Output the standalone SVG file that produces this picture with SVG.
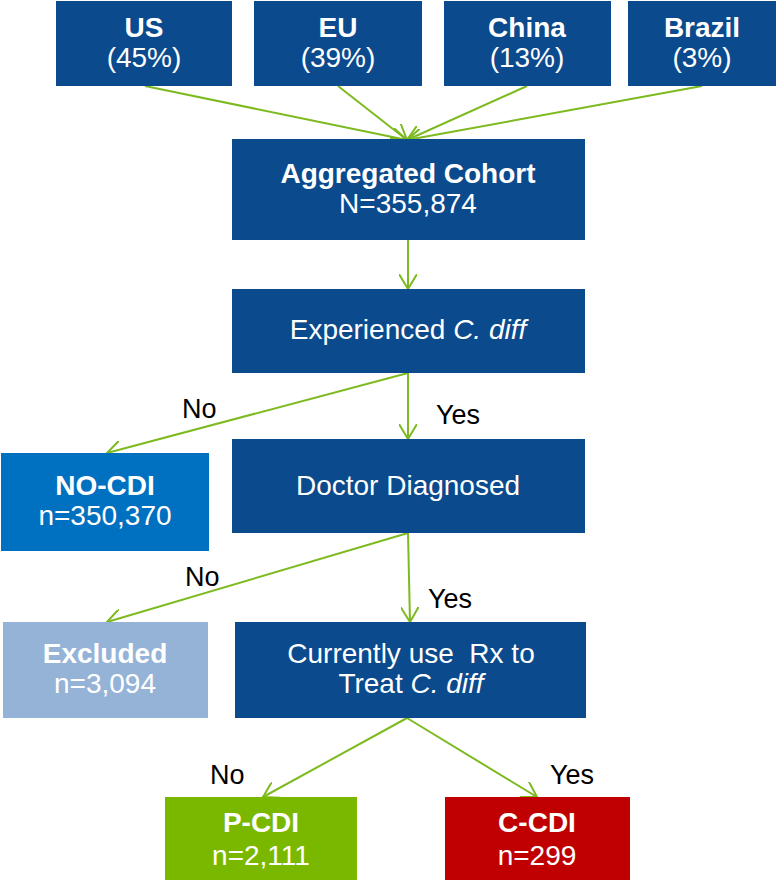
<svg xmlns="http://www.w3.org/2000/svg" width="776" height="882" viewBox="0 0 776 882">
<defs>
<style>
.box{fill:#0A4A8D;}
.t{font-family:"Liberation Sans",Arial,sans-serif;font-size:28px;fill:#fff;text-anchor:middle;}
.b{font-weight:bold;}
.lbl{font-family:"Liberation Sans",Arial,sans-serif;font-size:27px;fill:#000;}
.c{stroke:#7DBA1F;stroke-width:2;fill:none;marker-end:url(#ah);}
</style>
<marker id="ah" markerUnits="userSpaceOnUse" viewBox="0 0 16 18" refX="15" refY="9" markerWidth="16" markerHeight="18" orient="auto">
<path d="M0,0 L15,9 L0,18" fill="none" stroke="#7DBA1F" stroke-width="2"/>
</marker>
</defs>
<rect width="776" height="882" fill="#fff"/>
<g id="connectors">
<line class="c" x1="145" y1="86" x2="407" y2="140"/>
<line class="c" x1="338" y1="86" x2="407" y2="140"/>
<line class="c" x1="527" y1="86" x2="407" y2="140"/>
<line class="c" x1="702" y1="86" x2="407" y2="140"/>
<line class="c" x1="408" y1="240" x2="408" y2="289"/>
<line class="c" x1="408" y1="373" x2="107" y2="453"/>
<line class="c" x1="408" y1="373" x2="408" y2="439"/>
<line class="c" x1="408" y1="533" x2="107" y2="622"/>
<line class="c" x1="408" y1="533" x2="410" y2="622"/>
<line class="c" x1="407" y1="718" x2="263" y2="797"/>
<line class="c" x1="407" y1="718" x2="537" y2="797"/>
</g>
<g id="labels">
<text class="lbl" x="182" y="418">No</text>
<text class="lbl" x="436" y="424">Yes</text>
<text class="lbl" x="185" y="586">No</text>
<text class="lbl" x="428" y="608">Yes</text>
<text class="lbl" x="210" y="784">No</text>
<text class="lbl" x="550" y="784">Yes</text>
</g>
<g id="us"><rect class="box" x="56" y="1" width="176" height="85"/>
<text class="t b" x="144" y="37">US</text><text class="t" x="144" y="67">(45%)</text></g>
<g id="eu"><rect class="box" x="254" y="1" width="168" height="85"/>
<text class="t b" x="338" y="37">EU</text><text class="t" x="338" y="67">(39%)</text></g>
<g id="china"><rect class="box" x="444" y="1" width="167" height="85"/>
<text class="t b" x="527" y="37">China</text><text class="t" x="527" y="67">(13%)</text></g>
<g id="brazil"><rect class="box" x="628" y="1" width="148" height="85"/>
<text class="t b" x="702" y="37">Brazil</text><text class="t" x="702" y="67">(3%)</text></g>
<g id="aggregated"><rect class="box" x="232" y="139" width="353" height="101"/>
<text class="t b" x="408" y="183">Aggregated Cohort</text><text class="t" x="408" y="213">N=355,874</text></g>
<g id="experienced"><rect class="box" x="232" y="289" width="353" height="84"/>
<text class="t" x="408" y="339">Experienced <tspan font-style="italic">C. diff</tspan></text></g>
<g id="nocdi"><rect x="1" y="453" width="208" height="98" fill="#0070C0"/>
<text class="t b" x="105" y="495">NO-CDI</text><text class="t" x="105" y="525">n=350,370</text></g>
<g id="doctor"><rect class="box" x="232" y="439" width="353" height="94"/>
<text class="t" x="408" y="495">Doctor Diagnosed</text></g>
<g id="excluded"><rect x="3" y="622" width="205" height="96" fill="#95B3D7"/>
<text class="t b" x="105" y="663">Excluded</text><text class="t" x="105" y="693">n=3,094</text></g>
<g id="currently"><rect class="box" x="235" y="622" width="351" height="96"/>
<text class="t" x="411" y="663" xml:space="preserve">Currently use  Rx to</text><text class="t" x="411" y="693">Treat <tspan font-style="italic">C. diff</tspan></text></g>
<g id="pcdi"><rect x="165" y="797" width="192" height="83" fill="#7AB800"/>
<text class="t b" x="261" y="832">P-CDI</text><text class="t" x="261" y="865">n=2,111</text></g>
<g id="ccdi"><rect x="445" y="797" width="185" height="83" fill="#C00000"/>
<text class="t b" x="537" y="832">C-CDI</text><text class="t" x="537" y="865">n=299</text></g>
</svg>
